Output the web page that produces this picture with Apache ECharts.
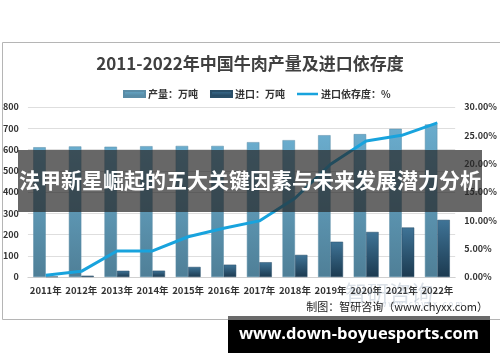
<!DOCTYPE html>
<html><head><meta charset="utf-8">
<script src="https://cdn.jsdelivr.net/npm/echarts@6/dist/echarts.min.js"></script>
<style>html,body{margin:0;padding:0;background:#fff}#c{width:500px;height:362px}</style>
</head><body><div id="c"></div>
<script>
const categories = ['2011年','2012年','2013年','2014年','2015年','2016年','2017年','2018年','2019年','2020年','2021年','2022年'];
const production = [610.7, 614.7, 613.1, 615.7, 616.9, 616.9, 634.6, 644.1, 667.3, 672.4, 697.5, 718.0];
const imports = [2.0, 6.1, 29.4, 29.8, 47.4, 58.0, 69.5, 104.0, 166.0, 212.0, 233.0, 269.0];
const dependency = [0.3, 1.0, 4.6, 4.6, 7.1, 8.6, 9.9, 13.9, 19.9, 24.0, 25.0, 27.2];
const leftTicks = {min: 0, max: 800, interval: 100};
const rightTicks = {min: 0, max: 30, interval: 5};
const seriesNames = ['产量：万吨', '进口：万吨', '进口依存度：%'];
const titleText = '2011-2022年中国牛肉产量及进口依存度';
const sourceText = '制图：智研咨询（www.chyxx.com）';
const bannerText = '法甲新星崛起的五大关键因素与未来发展潜力分析';
const siteText = 'www.down-boyuesports.com';

const cjk = '"Noto Sans CJK SC", "Noto Sans", sans-serif';
const chart = echarts.init(document.getElementById('c'), null, {renderer: 'canvas'});
const grad = (a, b) => new echarts.graphic.LinearGradient(0, 0, 0, 1, [{offset: 0, color: a}, {offset: 1, color: b}]);

chart.setOption({
  animation: false,
  backgroundColor: '#fff',
  title: {
    text: titleText, left: 'center', top: 50,
    textStyle: {fontFamily: cjk, fontSize: 17, fontWeight: 'bold', color: '#404040'}
  },
  legend: {
    left: 118, top: 84, itemGap: 12, itemWidth: 21, itemHeight: 6,
    textStyle: {fontFamily: cjk, fontSize: 10, fontWeight: 'bold', color: '#333', padding: [0, 0, 0, -2]},
    data: [
      {name: seriesNames[0], icon: 'rect'},
      {name: seriesNames[1], icon: 'rect'},
      {name: seriesNames[2], icon: 'path://M0,0h25v3h-25z'}
    ]
  },
  grid: {left: 25.5, right: 41.5, top: 107, bottom: 85},
  xAxis: {
    type: 'category', data: categories,
    axisLine: {lineStyle: {color: '#d0d0d0'}}, axisTick: {show: false},
    axisLabel: {fontFamily: cjk, fontSize: 9.5, fontWeight: 'bold', color: '#333', margin: 9, interval: 0}
  },
  yAxis: [
    {type: 'value', min: leftTicks.min, max: leftTicks.max, interval: leftTicks.interval,
     axisLine: {show: false}, axisTick: {show: false},
     splitLine: {lineStyle: {color: '#dedede'}},
     axisLabel: {fontFamily: cjk, fontSize: 9, fontWeight: 'bold', color: '#333', margin: 9}},
    {type: 'value', min: rightTicks.min, max: rightTicks.max, interval: rightTicks.interval,
     axisLine: {show: false}, axisTick: {show: false}, splitLine: {show: false},
     axisLabel: {fontFamily: cjk, fontSize: 9, fontWeight: 'bold', color: '#333', margin: 9,
       formatter: v => v.toFixed(2) + '%'}}
  ],
  series: [
    {name: seriesNames[0], type: 'bar', data: production, barGap: '0%', barCategoryGap: '30%',
     itemStyle: {color: grad('#6aaccd', '#4f7f97'), borderColor: '#5a8ca6', borderWidth: 0.5}},
    {name: seriesNames[1], type: 'bar', data: imports,
     itemStyle: {color: grad('#3f7497', '#1c3a50'), borderColor: '#2a4f68', borderWidth: 0.5}},
    {name: seriesNames[2], type: 'line', yAxisIndex: 1, data: dependency,
     symbol: 'none', lineStyle: {width: 3, color: '#18a3dd'}, itemStyle: {color: '#18a3dd'}}
  ],
  graphic: [
    {type: 'rect', left: 0, top: 40, shape: {width: 499, height: 277}, silent: true, z: -10,
     style: {fill: 'none', stroke: '#b5b5b5', lineWidth: 1}},
    {type: 'text', left: 345, top: 282, z: 1, style: {text: '智研咨询', fontFamily: cjk, fontSize: 22, fill: 'rgba(150,165,185,0.35)'}},
    {type: 'text', left: 380, top: 300, z: 1, style: {text: 'w w w . c h y x x . c o m', fontFamily: cjk, fontSize: 8, fill: 'rgba(150,165,185,0.4)'}},
    {type: 'text', right: 12, top: 301, z: 2, style: {text: sourceText, fontFamily: cjk, fontSize: 11, fill: '#222'}},
    {type: 'rect', left: 18, top: 150, shape: {width: 464, height: 62}, z: 100,
     style: {fill: 'rgba(38,38,38,0.7)'}},
    {type: 'text', left: 'center', top: 170, z: 101,
     style: {text: bannerText, fontFamily: cjk, fontSize: 21, fontWeight: 'bold', fill: '#fff', textVerticalAlign: 'middle'}},
    {type: 'rect', left: 228, top: 316, shape: {width: 262, height: 4}, z: 100, style: {fill: '#6a6a6a'}},
    {type: 'rect', left: 228, top: 320, shape: {width: 262, height: 33}, z: 100, style: {fill: '#000'}},
    {type: 'text', left: 239, top: 326, z: 101,
     style: {text: siteText, fontFamily: '"Open Sans", sans-serif', fontSize: 16.5, fontWeight: 'bold', fill: '#fff'}}
  ]
});
</script></body></html>
